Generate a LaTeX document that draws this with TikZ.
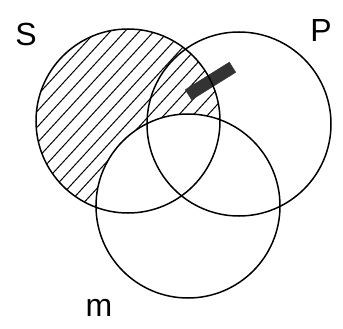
\documentclass[tikz,border=0pt]{standalone}
\usepackage{fontspec}
\setsansfont{Liberation Sans}
\begin{document}
\begin{tikzpicture}[x=1pt,y=-1pt,
  setcircle/.style={circle,draw,line width=1.5pt,minimum size=184pt,inner sep=0pt},
  hatch/.style={line width=1pt},
  lbl/.style={font=\sffamily\fontsize{32}{32}\selectfont,inner sep=0pt},
  blot/.style={fill=black!80,draw=black!80,minimum width=52pt,minimum height=12pt,inner sep=0pt,rotate=32}]
\useasboundingbox (0,0) rectangle (343,329);
% hatching of S minus M
\begin{scope}
  \clip (128,121) circle (92);
  \begin{scope}[even odd rule]
  \clip (0,0) rectangle (343,329) (188,206) circle (92);
  \foreach \k in {-10,...,50} {
    \draw[hatch] ({\k*14.5-300},400) -- ++(440,-480);
  }
  \end{scope}
\end{scope}
\node[blot] (B) at (210.5,81) {};
\node[setcircle] (S) at (128,121) {};
\node[setcircle] (P) at (239,124) {};
\node[setcircle] (M) at (188,206) {};
\node[lbl] (SL) at (26,34) {S};
\node[lbl] (PL) at (321,30) {P};
\node[lbl] (ML) at (99,308) {m};
\end{tikzpicture}
\end{document}
